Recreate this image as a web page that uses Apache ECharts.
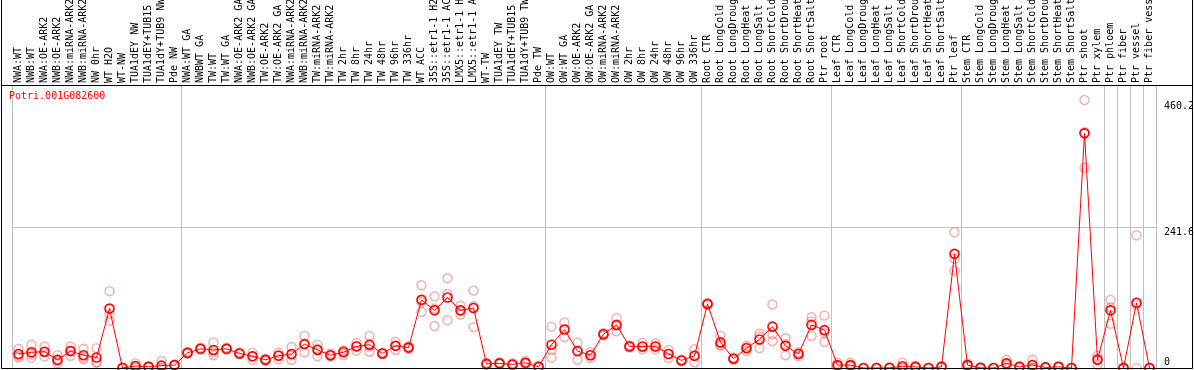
<!DOCTYPE html>
<html>
<head>
<meta charset="utf-8">
<script src="https://cdn.jsdelivr.net/npm/echarts@6/dist/echarts.min.js"></script>
<style>html,body{margin:0;padding:0;background:#fff}#c{width:1194px;height:370px}</style>
</head>
<body>
<div id="c"></div>
<script>
var geneTitle = 'Potri.001G082600';
var categories = [
 'NWA:WT','NWB:WT','NWA:OE-ARK2','NWB:OE-ARK2','NWA:miRNA-ARK2','NWB:miRNA-ARK2','NW 0hr','WT H2O','WT-NW','TUA1dEY NW','TUA1dEY+TUB15 NW','TUA1dY+TUB9 NW','Pde NW',
 'NWA:WT GA','NWBWT GA','TW:WT','TW:WT GA','NWA:OE-ARK2 GA','NWB:OE-ARK2 GA','TW:OE-ARK2','TW:OE-ARK2 GA','NWA:miRNA-ARK2 GA','NWB:miRNA-ARK2 GA','TW:miRNA-ARK2','TW:miRNA-ARK2 GA','TW 2hr','TW 8hr','TW 24hr','TW 48hr','TW 96hr','TW 336hr','WT ACC','35S::etr1-1 H2O','35S::etr1-1 ACC','LMX5::etr1-1 H2O','LMX5::etr1-1 ACC','WT-TW','TUA1dEY TW','TUA1dEY+TUB15 TW','TUA1dY+TUB9 TW','Pde TW',
 'OW:WT','OW:WT GA','OW:OE-ARK2','OW:OE-ARK2 GA','OW:miRNA-ARK2','OW:miRNA-ARK2 GA','OW 2hr','OW 8hr','OW 24hr','OW 48hr','OW 96hr','OW 336hr',
 'Root CTR','Root LongCold','Root LongDrought','Root LongHeat','Root LongSalt','Root ShortCold','Root ShortDrought','Root ShortHeat','Root ShortSalt','Ptr root',
 'Leaf CTR','Leaf LongCold','Leaf LongDrought','Leaf LongHeat','Leaf LongSalt','Leaf ShortCold','Leaf ShortDrought','Leaf ShortHeat','Leaf ShortSalt','Ptr leaf',
 'Stem CTR','Stem LongCold','Stem LongDrought','Stem LongHeat','Stem LongSalt','Stem ShortCold','Stem ShortDrought','Stem ShortHeat','Stem ShortSalt','Ptr shoot','Ptr xylem',
 'Ptr phloem','Ptr fiber','Ptr vessel','Ptr fiber vessel'
];
// indices of categories that start a new group (separator drawn before them)
var groupStarts = [0, 13, 41, 53, 63, 73, 84, 85, 86, 87];

var meanValues = [
 24,27,28,14,29,22,18,102,0,3.5,2,4,5,
 26,33,31,33,25,20,14,21,24,41,31,22,27,37,40,25,38,35,117,99,121,99,103,7,8,6,9,2,
 40,66,29,22,58,74,37,37,37,24,13,21,
 110,44,16,34,49,71,38,24,74,65,
 5,5,0,0,0.3,3,2,0,2,196,
 5,0.3,0,8,2,5,1,2,0,403,14,
 99,0,112,0
];
var rep1 = [
 33,40,37,22,37,33,34,132,1,8,3,12,6,
 28,35,44,35,27,26,16,26,36,55,40,25,30,43,55,26,45,37,142,123,154,107,133,9,10,8,12,3,
 71,78,44,27,60,86,39,43,42,31,14,32,
 112,55,18,38,59,109,51,27,87,90,
 9,9,0,0,1,9,4,0,3,233,
 8,1,0,14,3,14,2,3,0,460.2,21,
 117,0,228,0
];
var rep2 = [
 18,18,20,8,21,15,11,93,0,2,2,0,5,
 25,32,22,32,24,14,12,15,14,27,20,20,22,30,28,24,31,33,96,72,127,92,70,6,7,5,8,2,
 18,53,14,17,56,63,35,32,32,17,12,10,
 108,38,14,29,34,58,22,20,80,45,
 3,3,0,0,0,0,1,0,2,188,
 4,0,0,6,1,1,1,2,0,405,5,
 76,0,108,0
];
var rep3 = [
 21,23,27,12,30,18,9,81,0,0,1,0,4,
 25,32,27,32,24,20,14,22,22,41,33,21,29,38,37,25,38,35,113,102,82,98,106,6,7,5,7,1,
 31,67,29,22,58,73,37,36,37,24,13,21,
 110,40,16,35,54,46,41,25,55,60,
 3,3,0,0,0,0,1,0,1,167,
 3,0,0,4,2,0,0,1,0,344,16,
 104,0,0,0
];
var yTickValues = [0, 241.6, 460.2];
var gridValue = 241.6;

var MONO = "'DejaVu Sans Mono', 'Liberation Mono', monospace";
var isBoundary = function (idx) { return groupStarts.indexOf(idx) >= 0; };

function repSeries(arr) {
  return {
    type: 'scatter', data: arr, z: 2, silent: true,
    symbol: 'circle', symbolSize: 9,
    itemStyle: { color: 'rgba(255,255,255,0)', borderColor: 'rgba(225,95,95,0.6)', borderWidth: 1.5 }
  };
}

var markData = yTickValues.map(function (v) {
  var off = v === 0 ? -6 : (v === gridValue ? 5 : 6);
  return {
    yAxis: v,
    lineStyle: { color: v === gridValue ? '#c0c0c0' : 'rgba(0,0,0,0)', width: 1, type: 'solid' },
    label: { show: true, position: 'end', formatter: String(v), offset: [0, off], distance: 8,
             color: '#000', fontFamily: MONO, fontSize: 10 }
  };
});

var chart = echarts.init(document.getElementById('c'), null, { renderer: 'canvas' });
chart.setOption({
  animation: false,
  backgroundColor: '#fff',
  title: {
    text: geneTitle, left: 9, top: 91, padding: 0,
    textStyle: { color: '#ff0000', fontFamily: MONO, fontSize: 10, fontWeight: 'normal' }
  },
  grid: { left: 12, top: 85, width: 1144, bottom: 2, containLabel: false, outerBoundsMode: 'none' },
  xAxis: {
    type: 'category', position: 'top', data: categories, boundaryGap: true,
    axisLine: { show: false },
    axisTick: { show: true, interval: isBoundary, length: 85, lineStyle: { color: '#c0c0c0', width: 1 } },
    axisLabel: { interval: 0, rotate: 90, margin: 2, color: '#000', fontFamily: MONO, fontSize: 10, hideOverlap: false },
    splitLine: { show: true, interval: isBoundary, lineStyle: { color: '#c0c0c0', width: 1 } }
  },
  yAxis: {
    type: 'value', min: 0, max: 486, show: false, splitLine: { show: false }
  },
  series: [
    repSeries(rep1), repSeries(rep2), repSeries(rep3),
    {
      type: 'line', data: meanValues, z: 5, silent: true,
      symbol: 'circle', symbolSize: 9,
      lineStyle: { color: '#ff0000', width: 1 },
      itemStyle: { color: 'rgba(255,255,255,0)', borderColor: '#ff0000', borderWidth: 1.6 },
      markLine: { silent: true, symbol: 'none', data: markData, animation: false }
    }
  ],
  graphic: [
    { type: 'rect', silent: true, z: 100, shape: { x: 1.5, y: -2, width: 1191, height: 370.5 },
      style: { fill: null, stroke: '#000', lineWidth: 1 } },
    { type: 'line', silent: true, z: 100, shape: { x1: 1.5, y1: 85.5, x2: 1192.5, y2: 85.5 },
      style: { stroke: '#000', lineWidth: 1 } }
  ]
});
</script>
</body>
</html>
